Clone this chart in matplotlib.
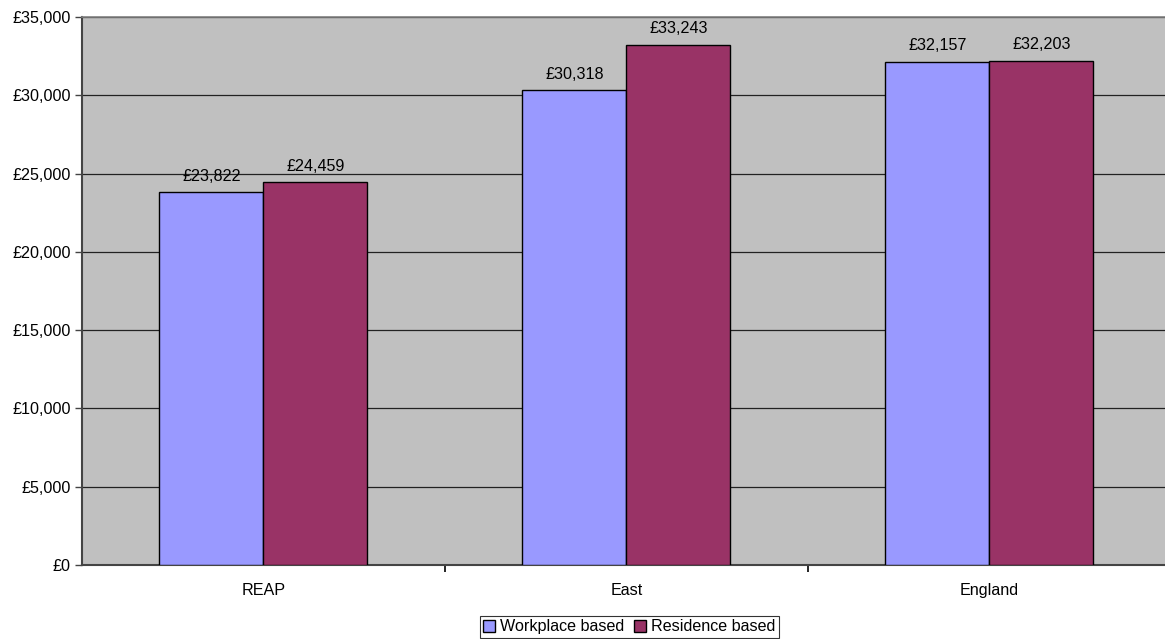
import numpy as np
import matplotlib
matplotlib.use("Agg")
import matplotlib.pyplot as plt
from matplotlib.ticker import FuncFormatter, FixedLocator

plt.rcParams['font.family'] = ['Liberation Sans', 'DejaVu Sans']

# data
categories = ["REAP", "East", "England"]
workplace = [23822, 30318, 32157]
residence = [24459, 33243, 32203]
series_names = ["Workplace based", "Residence based"]

fs = 11.6

fig = plt.figure(figsize=(11.65, 6.39), dpi=100)
ax = fig.add_axes([82 / 1165, 74 / 639, 1083 / 1165, 548 / 639])
ax.set_facecolor('#C0C0C0')

x = np.arange(len(categories))
w = 0.2865
b1 = ax.bar(x - w / 2, workplace, w, color='#9999FF', edgecolor='black', linewidth=1, zorder=3,
            label=series_names[0])
b2 = ax.bar(x + w / 2, residence, w, color='#993366', edgecolor='black', linewidth=1, zorder=3,
            label=series_names[1])

for bars, vals in ((b1, workplace), (b2, residence)):
    for r, v in zip(bars, vals):
        ax.annotate(f"£{v:,}", (r.get_x() + r.get_width() / 2, v), xytext=(0, 6),
                    textcoords='offset points', ha='center', va='bottom', fontsize=fs, zorder=4)

ax.set_ylim(0, 35000)
ax.set_xlim(-0.5, 2.484)
ax.set_yticks(np.arange(0, 35001, 5000))
ax.yaxis.set_major_formatter(FuncFormatter(lambda v, p: f"£{int(v):,}"))
ax.yaxis.grid(True, color='#222222', linewidth=0.9, zorder=1)
ax.set_axisbelow(True)

ax.set_xticks(x)
ax.set_xticklabels(categories)
ax.xaxis.set_minor_locator(FixedLocator([0.5, 1.5]))
ax.tick_params(axis='x', which='major', length=0, pad=13, labelsize=fs)
ax.tick_params(axis='x', which='minor', length=5, width=1.2, color='black', direction='out')
ax.tick_params(axis='y', length=5, width=1, color='#444444', direction='out', labelsize=fs, pad=3)

for s in ('left', 'bottom'):
    ax.spines[s].set_color('#444444')
    ax.spines[s].set_linewidth(1.5)
ax.spines['top'].set_color('#808080')
ax.spines['top'].set_linewidth(1.2)
ax.spines['right'].set_visible(False)

leg = fig.legend(loc='lower center', bbox_to_anchor=(0.5403, 1.5 / 639), ncol=2, frameon=True,
                 fancybox=False, edgecolor='black', fontsize=fs, handlelength=0.75,
                 handleheight=0.75, handletextpad=0.3, columnspacing=0.6, borderpad=0.2,
                 borderaxespad=0)
leg.get_frame().set_linewidth(0.8)

fig.savefig("out.png", dpi=100, facecolor='white')
